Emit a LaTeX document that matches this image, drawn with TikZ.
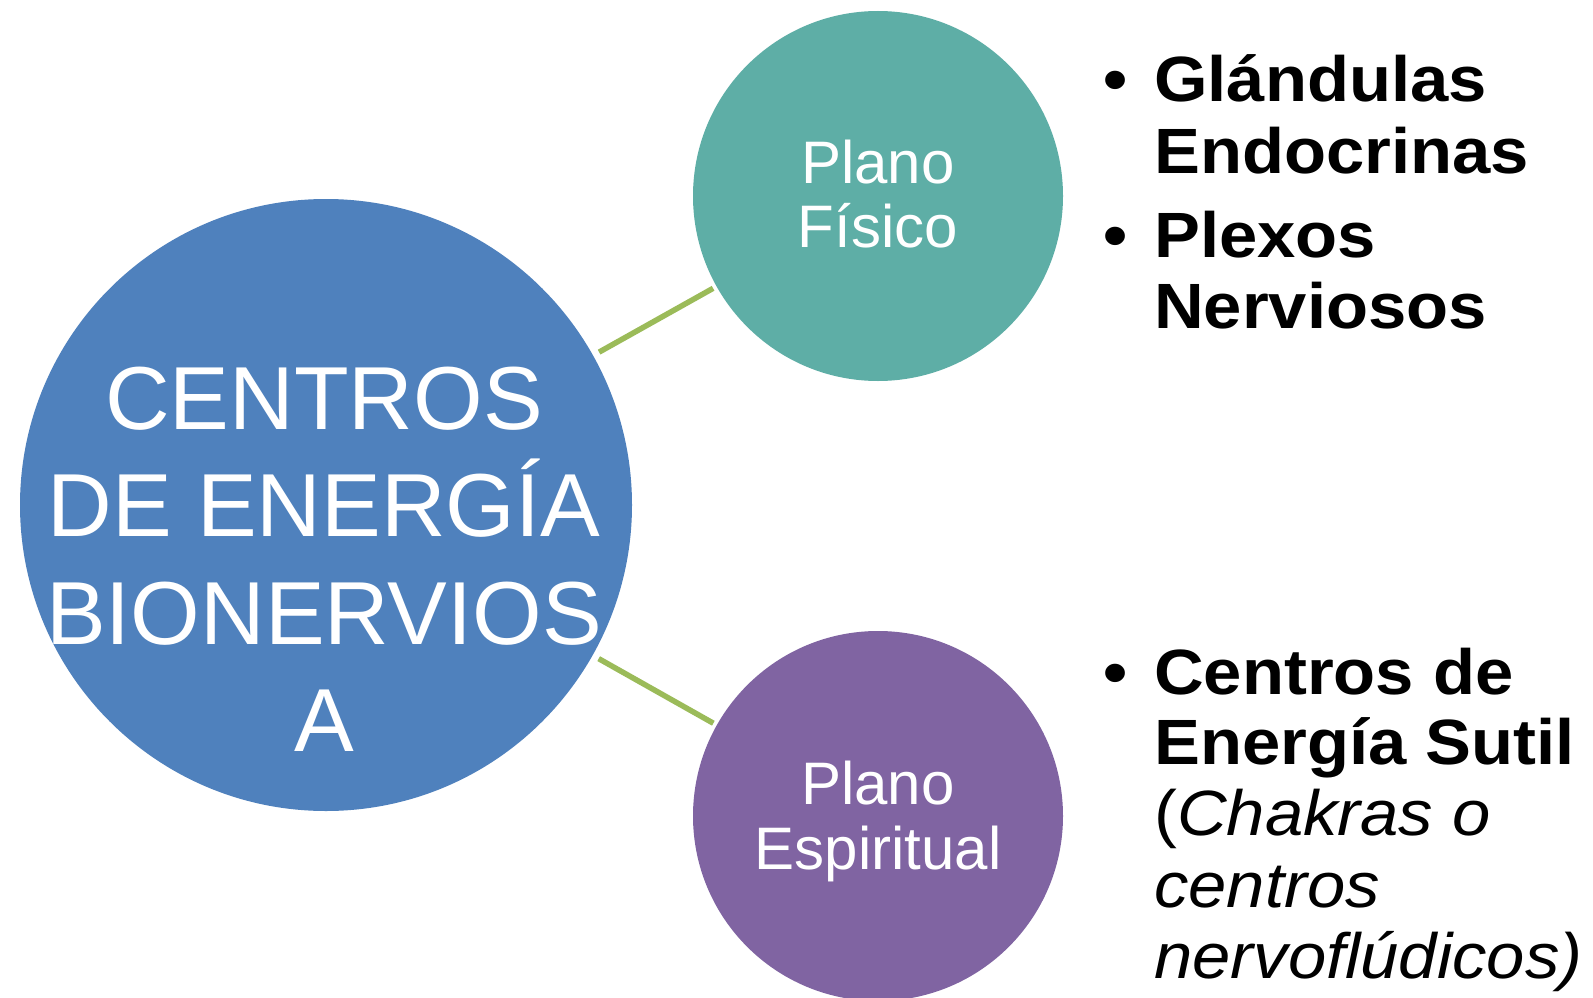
\documentclass[tikz,border=0pt]{standalone}
\usepackage{fontspec}
\setmainfont{Liberation Sans}
\newfontfamily\widefont[FakeStretch=1.075]{Liberation Sans}
\definecolor{cblue}{HTML}{4F81BD}
\definecolor{cteal}{HTML}{5EAEA6}
\definecolor{cpurple}{HTML}{8064A2}
\definecolor{linkgreen}{HTML}{9BBB59}
\begin{document}
\begin{tikzpicture}[x=1pt,y=-1pt,
  bubble/.style={circle,inner sep=0pt,outer sep=0pt,minimum size=#1},
  link/.style={draw=linkgreen,line width=5.5pt,shorten <=7pt,shorten >=4pt},
  bigtxt/.style={anchor=base,inner sep=0pt,text=white,font=\fontsize{89.5}{106}\selectfont},
  midtxt/.style={anchor=base,inner sep=0pt,text=white,font=\fontsize{60}{65}\selectfont},
  itemtxt/.style={anchor=base west,inner sep=0pt,font=\widefont\fontsize{64}{71}\selectfont},
  bullettxt/.style={anchor=base,inner sep=0pt,font=\widefont\bfseries\fontsize{64}{71}\selectfont}]
\useasboundingbox[fill=white] (0,0) rectangle (1593,998);
% circles
\node[bubble=612pt,fill=cblue] (big) at (326,505) {};
\node[bubble=370pt,fill=cteal] (fis) at (878,196) {};
\node[bubble=370pt,fill=cpurple] (esp) at (878,816) {};
% connectors
\draw[link] (big) -- (fis);
\draw[link] (big) -- (esp);
% central text
\node[bigtxt] (b1) at (324,429) {CENTROS};
\node[bigtxt] (b2) at (324,536) {DE ENERGÍA};
\node[bigtxt] (b3) at (324,644) {BIONERVIOS};
\node[bigtxt] (b4) at (324,751) {A};
% plane labels
\node[midtxt] (f1) at (878,183) {Plano};
\node[midtxt] (f2) at (878,247) {Físico};
\node[midtxt] (e1) at (878,804) {Plano};
\node[midtxt] (e2) at (878,869) {Espiritual};
% top bullet list
\node[bullettxt] (u1) at (1116,102) {•};
\node[itemtxt] (t1) at (1154,102) {\bfseries Glándulas};
\node[itemtxt] (t2) at (1154,173) {\bfseries Endocrinas};
\node[bullettxt] (u2) at (1116,257) {•};
\node[itemtxt] (t3) at (1154,257) {\bfseries Plexos};
\node[itemtxt] (t4) at (1154,328) {\bfseries Nerviosos};
% bottom bullet list
\node[bullettxt] (u3) at (1116,694) {•};
\node[itemtxt] (s1) at (1154,694) {\bfseries Centros de};
\node[itemtxt] (s2) at (1154,764) {\bfseries Energía Sutil};
\node[itemtxt] (s3) at (1154,835) {(\itshape Chakras o};
\node[itemtxt] (s4) at (1154,907) {\itshape centros};
\node[itemtxt] (s5) at (1154,978) {\itshape nervoflúdicos)};
\end{tikzpicture}
\end{document}
